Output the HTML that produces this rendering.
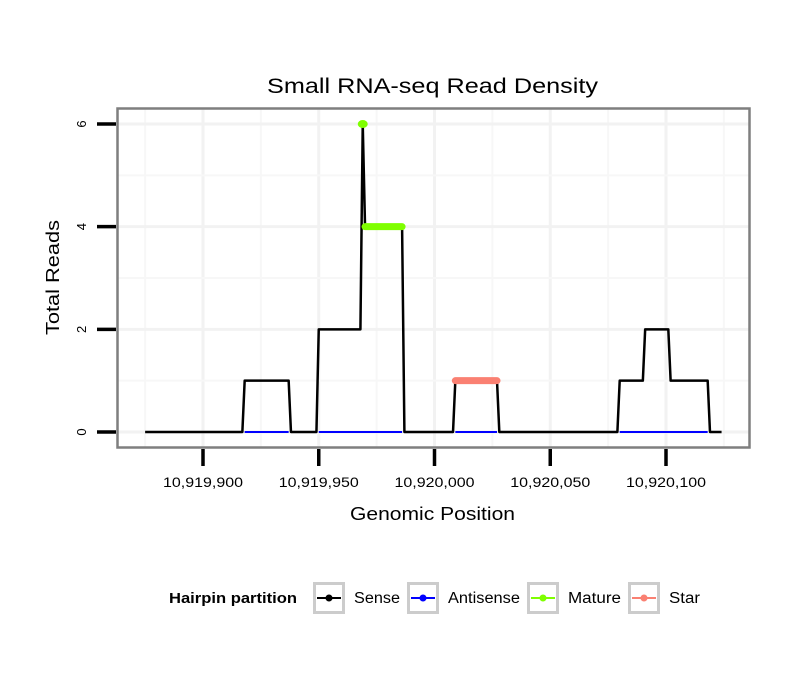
<!DOCTYPE html>
<html><head><meta charset="utf-8"><style>
html,body{margin:0;padding:0;background:#fff;}
svg text{font-family:"Liberation Sans",sans-serif;}
</style></head><body>
<svg id="chart" width="810" height="690" xmlns="http://www.w3.org/2000/svg">
<rect width="810" height="690" fill="#fff"/>
<text x="267" y="93" font-size="21" textLength="331" lengthAdjust="spacingAndGlyphs">Small RNA-seq Read Density</text>
<g id="grid"></g>
<g id="marks"></g>
<rect x="117.5" y="108.5" width="632" height="339" fill="none" stroke="#7f7f7f" stroke-width="2.5"/>
<g id="axes"></g>
<text x="350" y="520" font-size="18" textLength="165" lengthAdjust="spacingAndGlyphs">Genomic Position</text>
<text x="59" y="335" font-size="18" textLength="115" lengthAdjust="spacingAndGlyphs" transform="rotate(-90 59 335)">Total Reads</text>
<g>
<text x="169" y="603" font-size="14.5" font-weight="bold" textLength="128" lengthAdjust="spacingAndGlyphs">Hairpin partition</text>
<g id="legend-keys"></g>
</g>
</svg>
<script>
const BASE = 10919900;
const xTicks = [0, 50, 100, 150, 200];
const xTickLabels = ["10,919,900","10,919,950","10,920,000","10,920,050","10,920,100"];
const yTicks = [0, 2, 4, 6];
const sensePos = [-25,17,18,37,38,49,50,68,69,70,86,87,108,109,127,128,179,180,190,191,201,202,218,219,224];
const senseVal = [0,0,1,1,0,0,2,2,6,4,4,0,0,1,1,0,0,1,1,2,2,1,1,0,0];
const antisenseStart = [18,50,109,180];
const antisenseEnd = [37,86,127,218];
const maturePos = [69,70,86];
const matureVal = [6,4,4];
const starPos = [109,127];
const starVal = [1,1];
const legendLabels = ["Sense","Antisense","Mature","Star"];
const legendColors = ["#000000","#0000ff","#7fff00","#fa8072"];
const legendTextW = [46,72,53,31];

const NS="http://www.w3.org/2000/svg";
const xs = v => 203 + v*2.315;
const ys = v => 432 - v*51.33;
function mk(tag, attrs, parent){const e=document.createElementNS(NS,tag);for(const k in attrs)e.setAttribute(k,attrs[k]);parent.appendChild(e);return e;}
const grid=document.getElementById('grid'), marks=document.getElementById('marks'), axes=document.getElementById('axes');
// grid
const minorX=[xTicks[0]-25];
xTicks.forEach(v=>minorX.push(v+25));
xTicks.forEach(v=>{
  const g=mk('line',{x1:xs(v),x2:xs(v),y1:109,y2:447,stroke:'#f2f2f2','stroke-width':3},grid);
  
  
});
minorX.forEach(mv=>{
  if(xs(mv)>118&&xs(mv)<749){
  const m=mk('line',{x1:xs(mv),x2:xs(mv),y1:109,y2:447,stroke:'#f7f7f7','stroke-width':2},grid);
  
  }
});
yTicks.forEach(v=>{
  const g=mk('line',{x1:118,x2:749,y1:ys(v),y2:ys(v),stroke:'#f2f2f2','stroke-width':3},grid);
  
  
  if(v<yTicks[yTicks.length-1]){const m=mk('line',{x1:118,x2:749,y1:ys(v+1),y2:ys(v+1),stroke:'#f7f7f7','stroke-width':2},grid);
  
  }
});
// sense
const sp=mk('polyline',{points:sensePos.map((p,i)=>xs(p)+','+ys(senseVal[i])).join(' '),fill:'none',stroke:'#000','stroke-width':2.5,'stroke-linejoin':'round'},marks);


antisenseStart.forEach((s,i)=>{
  const l=mk('line',{x1:xs(s),x2:xs(antisenseEnd[i]),y1:ys(0),y2:ys(0),stroke:'#0000ff','stroke-width':2},marks);
  
  
});
const mp=mk('polyline',{points:maturePos.slice(1).map((p,i)=>xs(p)+','+ys(matureVal[i+1])).join(' '),fill:'none',stroke:'#7fff00','stroke-width':7,'stroke-linecap':'round'},marks);


const md=mk('ellipse',{cx:xs(maturePos[0]),cy:ys(matureVal[0]),rx:5,ry:4,fill:'#7fff00'},marks);


const stp=mk('polyline',{points:starPos.map((p,i)=>xs(p)+','+ys(starVal[i])).join(' '),fill:'none',stroke:'#fa8072','stroke-width':7,'stroke-linecap':'round'},marks);


// axes
yTicks.forEach(v=>{
  const t=mk('line',{x1:97,x2:116,y1:ys(v),y2:ys(v),stroke:'#000','stroke-width':3.5},axes);
  
  
  const tx=mk('text',{x:86,y:ys(v),'font-size':13,'text-anchor':'middle',transform:`rotate(-90 86 ${ys(v)})`},axes);
  tx.textContent=v;
  
  
});
xTicks.forEach((v,i)=>{
  const t=mk('line',{x1:xs(v),x2:xs(v),y1:449,y2:466,stroke:'#000','stroke-width':3.5},axes);
  
  
  const tx=mk('text',{x:xs(v)-40,y:487,'font-size':13.5,textLength:80,lengthAdjust:'spacingAndGlyphs'},axes);
  tx.textContent=xTickLabels[i];
  
  
});
// legend
const lk=document.getElementById('legend-keys');
const keyX=[313,407,527,628];
legendLabels.forEach((lab,i)=>{
  const g=mk('g',{},lk);
  
  
  const x=keyX[i];
  mk('rect',{x:x+1.5,y:583.5,width:29,height:29,fill:'#fff',stroke:'#cccccc','stroke-width':3},g);
  mk('line',{x1:x+4,x2:x+28,y1:598,y2:598,stroke:legendColors[i],'stroke-width':2},g);
  mk('circle',{cx:x+16,cy:598,r:3.5,fill:legendColors[i]},g);
  const t=mk('text',{x:x+41,y:603,'font-size':15.5,textLength:legendTextW[i],lengthAdjust:'spacingAndGlyphs'},g);
  t.textContent=lab;
});
</script>
</body></html>
